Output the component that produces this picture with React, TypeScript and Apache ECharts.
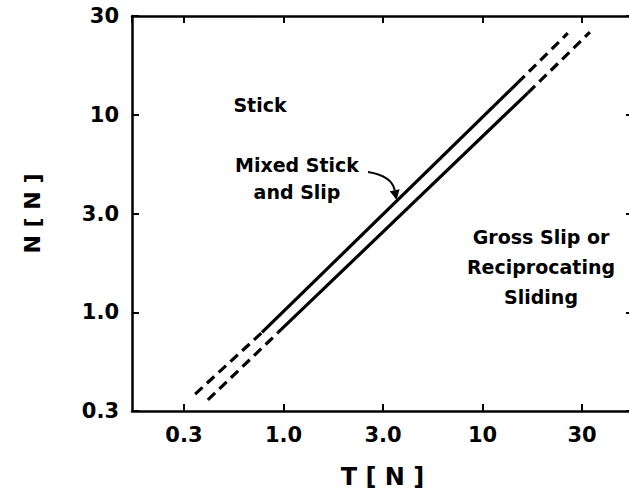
import React, { useEffect, useRef } from 'react';
import * as echarts from 'echarts';

// Tick labels sit on half-decade steps (k = -1..3 -> 10^(k/2))
const tickLabels = ['0.3', '1.0', '3.0', '10', '30'];
const tickSteps = [-1, 0, 1, 2, 3];

const xExtent = [0.1734, 57.0];
const yExtent = [0.31623, 31.623];

// Upper boundary (Stick / Mixed)
const upperLowT = [0.36, 0.78];
const upperLowN = [0.385, 0.79];
const upperSolidT = [0.78, 15.0];
const upperSolidN = [0.79, 14.5];
const upperHighT = [15.0, 26.8];
const upperHighN = [14.5, 25.9];

// Lower boundary (Mixed / Gross slip)
const lowerLowT = [0.417, 0.94];
const lowerLowN = [0.36, 0.79];
const lowerSolidT = [0.94, 16.9];
const lowerSolidN = [0.79, 12.9];
const lowerHighT = [16.9, 34.6];
const lowerHighN = [12.9, 26.2];

const arrowTarget = [3.7, 3.7];

const FONT = '"DejaVu Sans", "Liberation Sans", Arial, sans-serif';

const pairs = (t: number[], n: number[]) => t.map((v, i) => [v, n[i]]);

const fmt = (v: number) => {
  const k2 = 2 * Math.log10(v);
  const k = Math.round(k2);
  if (Math.abs(k2 - k) > 0.02) return '';
  const idx = tickSteps.indexOf(k);
  return idx >= 0 ? tickLabels[idx] : '';
};

export default function App() {
  const ref = useRef<HTMLDivElement>(null);
  useEffect(() => {
    if (!ref.current) return;
    const chart = echarts.init(ref.current, null, { renderer: 'svg' });
    const axisLine = { show: true, lineStyle: { color: '#000', width: 2.5 } };
    const axisTick = { show: true, inside: true, length: 7, lineStyle: { color: '#000', width: 2 } };
    const labelStyle = { color: '#000', fontFamily: FONT, fontWeight: 'bold' as const, fontSize: 21 };
    const base = Math.sqrt(10);
    const solid = (t: number[], n: number[]) => ({
      type: 'line', data: pairs(t, n), showSymbol: false, symbol: 'none',
      lineStyle: { color: '#000', width: 3.2, type: 'solid' }, silent: true,
    });
    const dashed = (t: number[], n: number[]) => ({
      type: 'line', data: pairs(t, n), showSymbol: false, symbol: 'none',
      lineStyle: { color: '#000', width: 3.2, type: [10, 6] }, silent: true,
    });
    chart.setOption({
      animation: false,
      backgroundColor: '#fff',
      grid: { left: 132, right: -4, top: 16, bottom: 86, containLabel: false, outerBoundsMode: 'none' },
      xAxis: [
        {
          type: 'log', logBase: base, min: xExtent[0], max: xExtent[1],
          name: 'T [ N ]', nameLocation: 'middle', nameGap: 54,
          nameTextStyle: { ...labelStyle, fontSize: 24 },
          axisLine, axisTick, splitLine: { show: false }, minorTick: { show: false },
          axisLabel: { ...labelStyle, margin: 13, formatter: fmt, showMinLabel: false, showMaxLabel: false },
        },
        {
          type: 'log', logBase: base, min: xExtent[0], max: xExtent[1], position: 'top',
          axisLine, axisTick, splitLine: { show: false }, axisLabel: { show: false },
        },
      ],
      yAxis: [
        {
          type: 'log', logBase: base, min: yExtent[0], max: yExtent[1],
          name: 'N [ N ]', nameLocation: 'middle', nameGap: 89, nameRotate: 90,
          nameTextStyle: { ...labelStyle, fontSize: 22 },
          axisLine, axisTick, splitLine: { show: false },
          axisLabel: { ...labelStyle, margin: 13, formatter: fmt },
        },
        {
          type: 'log', logBase: base, min: yExtent[0], max: yExtent[1], position: 'right',
          axisLine, axisTick, splitLine: { show: false }, axisLabel: { show: false },
        },
      ],
      series: [
        dashed(upperLowT, upperLowN), solid(upperSolidT, upperSolidN), dashed(upperHighT, upperHighN),
        dashed(lowerLowT, lowerLowN), solid(lowerSolidT, lowerSolidN), dashed(lowerHighT, lowerHighN),
      ],
    });

    const tip = chart.convertToPixel({ xAxisIndex: 0, yAxisIndex: 0 }, arrowTarget) as number[];
    const start = [368, 172];
    const cp = [392, 176];
    const dx = tip[0] - cp[0], dy = tip[1] - cp[1];
    const len = Math.hypot(dx, dy) || 1;
    const ux = dx / len, uy = dy / len;
    const bx = tip[0] - ux * 10, by = tip[1] - uy * 10;
    const txtStyle = (text: string, x: number, y: number, lh: number) => ({
      type: 'text', x, y, silent: true,
      style: {
        text, fill: '#000', fontFamily: FONT, fontWeight: 'bold', fontSize: 19,
        align: 'center', verticalAlign: 'middle', lineHeight: lh,
      },
    });
    chart.setOption({
      graphic: [
        txtStyle('Stick', 260, 105, 20),
        txtStyle('Mixed Stick\nand Slip', 297, 178, 27),
        txtStyle('Gross Slip or\nReciprocating\nSliding', 541, 267, 30),
        {
          type: 'bezierCurve', silent: true,
          shape: { x1: start[0], y1: start[1], x2: bx, y2: by, cpx1: cp[0], cpy1: cp[1] },
          style: { stroke: '#000', lineWidth: 2, fill: null },
        },
        {
          type: 'polygon', silent: true,
          shape: {
            points: [
              [tip[0], tip[1]],
              [bx - uy * 5, by + ux * 5],
              [bx + uy * 5, by - ux * 5],
            ],
          },
          style: { fill: '#000' },
        },
      ],
    });
    return () => chart.dispose();
  }, []);
  return (
    <div
      ref={ref}
      style={{ position: 'fixed', left: 0, top: 0, width: 629, height: 497, background: '#fff' }}
    />
  );
}
